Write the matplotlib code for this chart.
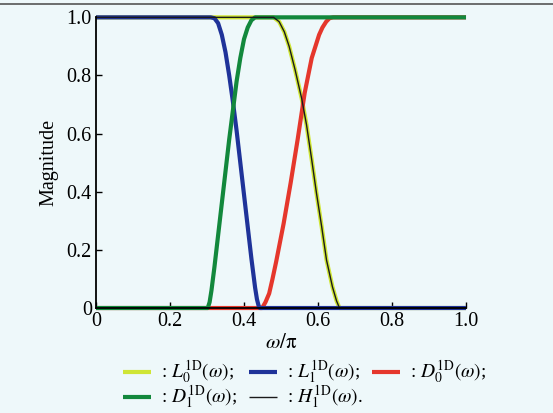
import matplotlib
matplotlib.use("Agg")
import matplotlib.pyplot as plt
from matplotlib.lines import Line2D

plt.rcParams['font.family'] = 'serif'
plt.rcParams['font.serif'] = ['Liberation Serif', 'DejaVu Serif']
plt.rcParams['mathtext.fontset'] = 'stix'

# values (omega/pi, magnitude)
l1_w = [0.0, 0.31, 0.32, 0.33, 0.34, 0.35, 0.36, 0.37, 0.38, 0.39, 0.40, 0.41, 0.42, 0.43, 0.435, 0.44, 0.443, 1.0]
l1_mag = [1.0, 1.0, 0.997, 0.98, 0.94, 0.88, 0.80, 0.71, 0.61, 0.50, 0.39, 0.28, 0.17, 0.07, 0.03, 0.005, 0.0, 0.0]

d1_w = [0.0, 0.302, 0.307, 0.312, 0.32, 0.33, 0.34, 0.35, 0.36, 0.37, 0.38, 0.39, 0.40, 0.41, 0.42, 0.43, 1.0]
d1_mag = [0.0, 0.0, 0.02, 0.06, 0.14, 0.25, 0.36, 0.47, 0.58, 0.68, 0.78, 0.86, 0.925, 0.965, 0.99, 1.0, 1.0]

d0_w = [0.0, 0.449, 0.458, 0.468, 0.477, 0.487, 0.507, 0.526, 0.545, 0.564, 0.583, 0.603, 0.612, 0.622, 0.631, 0.641, 1.0]
d0_mag = [0.0, 0.0, 0.02, 0.05, 0.10, 0.16, 0.29, 0.43, 0.58, 0.74, 0.86, 0.94, 0.965, 0.985, 0.997, 1.0, 1.0]

l0_w = [0.0, 0.48, 0.495, 0.509, 0.522, 0.538, 0.556, 0.569, 0.583, 0.596, 0.61, 0.623, 0.639, 0.65, 0.658, 1.0]
l0_mag = [1.0, 1.0, 0.985, 0.95, 0.90, 0.82, 0.72, 0.63, 0.51, 0.394, 0.279, 0.165, 0.073, 0.025, 0.0, 0.0]

h1_w = l0_w
h1_mag = l0_mag

xticks = [0, 0.2, 0.4, 0.6, 0.8, 1.0]
xtick_labels = ['0', '0.2', '0.4', '0.6', '0.8', '1.0']
yticks = [0, 0.2, 0.4, 0.6, 0.8, 1.0]
ytick_labels = ['0', '0.2', '0.4', '0.6', '0.8', '1.0']

bg = '#eef8fa'
c_l0 = '#cfe535'
c_l1 = '#1f3399'
c_d0 = '#e5372c'
c_d1 = '#12883c'

fig = plt.figure(figsize=(5.53, 4.13), dpi=100, facecolor=bg)
ax = fig.add_axes([0.1736, 0.2542, 0.6691, 0.7038], facecolor=bg)

lw = 3.0
ax.plot(l0_w, l0_mag, color=c_l0, lw=lw, clip_on=False, solid_capstyle='butt')
ax.plot(d0_w, d0_mag, color=c_d0, lw=lw, clip_on=False, solid_capstyle='butt')
ax.plot(l1_w, l1_mag, color=c_l1, lw=lw, clip_on=False, solid_capstyle='butt')
ax.plot(d1_w, d1_mag, color=c_d1, lw=lw, clip_on=False, solid_capstyle='butt')
ax.plot(h1_w, h1_mag, color='#1a1a1a', lw=1.0, clip_on=False)

ax.set_xlim(0, 1)
ax.set_ylim(0, 1)
ax.spines['top'].set_visible(False)
ax.spines['right'].set_visible(False)
ax.spines['left'].set_linewidth(1.3)
ax.spines['bottom'].set_linewidth(1.3)
ax.set_xticks(xticks)
ax.set_xticklabels(xtick_labels)
ax.set_yticks(yticks)
ax.set_yticklabels(ytick_labels)
ax.tick_params(direction='in', length=4, width=1, labelsize=14.5, pad=3)
ax.set_ylabel('Magnitude', fontsize=14.5, labelpad=6)
ax.set_xlabel(r'$\omega/\mathrm{\pi}$', fontsize=15, labelpad=2)

# frame line at the top of the scan
fig.add_artist(Line2D([0, 1], [0.99, 0.99], color='#555555', lw=1.2))

# hand-made legend below the axes
def legend_item(x0, y, color, width, label):
    fig.add_artist(Line2D([x0 / 553, (x0 + 28) / 553], [1 - y / 413] * 2,
                          color=color, lw=width, solid_capstyle='butt'))
    fig.text((x0 + 38) / 553, 1 - y / 413, label, fontsize=14, va='center', ha='left')

legend_item(123, 372, c_l0, 3.0, r': $L_0^{\mathrm{1D}}(\omega)$;')
legend_item(249, 372, c_l1, 3.0, r': $L_1^{\mathrm{1D}}(\omega)$;')
legend_item(372, 372, c_d0, 3.0, r': $D_0^{\mathrm{1D}}(\omega)$;')
legend_item(123, 397, c_d1, 3.0, r': $D_1^{\mathrm{1D}}(\omega)$;')
legend_item(249, 397, '#1a1a1a', 1.0, r': $H_1^{\mathrm{1D}}(\omega)$.')

fig.savefig('out.png', dpi=100, facecolor=bg)
